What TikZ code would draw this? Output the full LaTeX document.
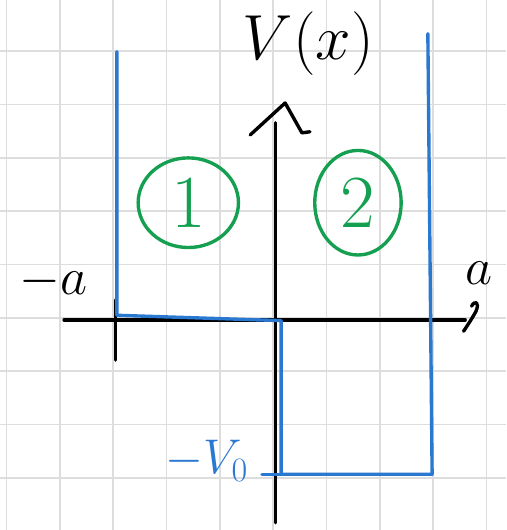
\RequirePackage{fix-cm}
\documentclass[tikz,border=0pt]{standalone}
\usepackage{amsmath,amssymb}
\usepackage{xcolor}
\usetikzlibrary{arrows.meta,positioning,calc,shapes.geometric}

\definecolor{penblue}{RGB}{42,120,208}
\definecolor{pengreen}{RGB}{20,160,80}
\definecolor{papergrid}{RGB}{221,221,221}

\tikzset{
  gridline/.style={papergrid,line width=0.9pt},
  axis/.style={black,line width=1.8pt,line cap=round,line join=round},
  potential/.style={penblue,line width=1.8pt,line cap=round,line join=round},
  region/.style={ellipse,draw=pengreen,line width=1.8pt,text=pengreen,
    inner sep=0pt,font=\fontsize{40}{42}\selectfont}
}

\begin{document}
\begin{tikzpicture}
\useasboundingbox (-5.12,-3.975) rectangle (4.37,5.96);
\draw[gridline] (-5.12,-3.975) grid (4.37,5.96);

% axes
\coordinate (xl) at (-3.92,-0.04);
\coordinate (xr) at (3.6,-0.04);
\coordinate (yb) at (0.04,-3.84);
\coordinate (yt) at (0.04,3.66);
\draw[axis] (xl) -- (xr);
\draw[axis] (yb) -- (yt);
\draw[axis] (-0.43,3.43) -- (0.225,4.03) -- (0.54,3.47) -- (0.69,3.49);
\draw[axis] (3.72,0.22) .. controls (3.78,0.34) and (3.88,0.30) .. (3.8,0.12)
  .. controls (3.72,-0.02) .. (3.57,-0.25);
\coordinate (ticktop) at (-2.96,0.34);
\coordinate (tickbot) at (-2.96,-0.79);
\draw[axis] (ticktop) -- (tickbot);

% labels
\node (vlabel) at (0.66,5.14) {\fontsize{34}{36}\selectfont$V(x)$};
\node (mina) at (-4.12,0.68) {\fontsize{28}{30}\selectfont$-a$};
\node (plusa) at (3.86,0.84) {\fontsize{28}{30}\selectfont$a$};
\node[penblue] (vnull) at (-1.24,-2.68) {\fontsize{26}{28}\selectfont$-V_0$};

% potential well
\coordinate (p1) at (-2.93,4.99);
\coordinate (p2) at (-2.93,0.05);
\coordinate (p3) at (0.15,-0.05);
\coordinate (p4) at (0.15,-2.93);
\coordinate (p5) at (2.98,-2.93);
\coordinate (p6) at (2.90,5.33);
\draw[potential] (p1) -- (p2) -- (p3) -- (p4) -- (p5) -- (p6);
\draw[potential] (-0.21,-2.93) -- (p4);

% regions
\node[region,minimum width=1.88cm,minimum height=1.68cm] (reg1) at (-1.59,2.16) {1};
\node[region,minimum width=1.62cm,minimum height=1.96cm] (reg2) at (1.59,2.16) {2};
\end{tikzpicture}
\end{document}
